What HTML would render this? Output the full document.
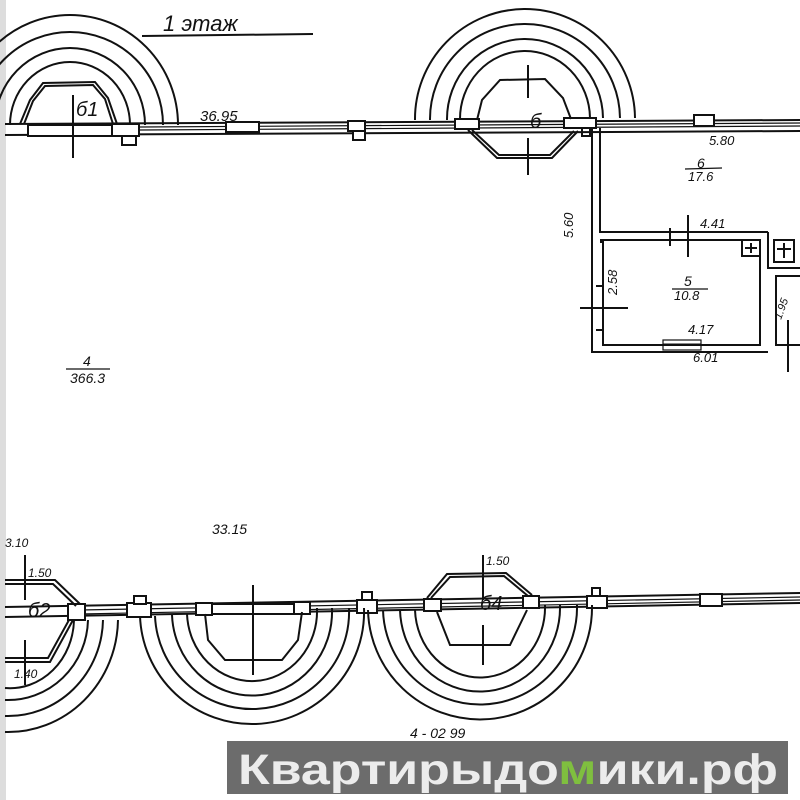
<!DOCTYPE html>
<html><head><meta charset="utf-8"><style>
html,body{margin:0;padding:0;background:#fff}
svg{display:block}
text{font-family:"Liberation Sans",sans-serif;font-style:italic}
</style></head><body>
<svg width="800" height="800" viewBox="0 0 800 800" xmlns="http://www.w3.org/2000/svg">
<rect width="800" height="800" fill="#fff"/>
<rect x="0" y="0" width="6" height="800" fill="#ddd"/>
<g fill="none" stroke="#111" stroke-width="2">
<line x1="142" y1="36" x2="313" y2="34"/>
<path d="M178 125 A108 110 0 0 0 -38 125"/>
<path d="M163 125 A93 93 0 0 0 -23 125"/>
<path d="M145 125 A75 77 0 0 0 -5 125"/>
<path d="M130 125 A60 63 0 0 0 10 125"/>
<path d="M20 124 L30 100 L43 83 L95 82 L108 98 L117 124"/>
<path d="M24 124 L33 101 L45 86 L93 85 L105 99 L113 124"/>
<line x1="5" y1="124" x2="800" y2="120"/>
<line x1="5" y1="135" x2="800" y2="131"/>
<line x1="140" y1="127" x2="800" y2="123" stroke-width="1.2"/>
<line x1="140" y1="130" x2="800" y2="126" stroke-width="1.2"/>
<rect x="28" y="125" width="84" height="11" fill="#fff"/>
<rect x="112" y="124" width="27" height="12" fill="#fff"/>
<rect x="122" y="136" width="14" height="9" fill="#fff"/>
<rect x="226" y="122" width="33" height="10" fill="#fff"/>
<rect x="348" y="121" width="17" height="10" fill="#fff"/>
<rect x="353" y="131" width="12" height="9" fill="#fff"/>
<rect x="455" y="119" width="24" height="10" fill="#fff"/>
<rect x="564" y="118" width="32" height="10" fill="#fff"/>
<rect x="694" y="115" width="20" height="11" fill="#fff"/>
<path d="M415 120 A110 110 0 0 1 635 118"/>
<path d="M430 120 A95 95 0 0 1 620 118"/>
<path d="M447 120 A78 80 0 0 1 603 118"/>
<path d="M460 120 A65 68 0 0 1 590 118"/>
<path d="M477 120 L482 100 L500 80 L545 79 L563 98 L571 119"/>
<path d="M468 130 L497 158 L552 158 L578 131"/>
<path d="M472 130 L499 155 L550 155 L574 131"/>
<line x1="528" y1="65" x2="528" y2="98"/>
<line x1="528" y1="138" x2="528" y2="175"/>
<rect x="582" y="128" width="8" height="8"/>
<path d="M592 128 L592 352 L768 352"/>
<path d="M600 128 L600 232 L768 232"/>
<path d="M600 242 L603 242 L603 345 L760 345 L760 240 L600 240"/>
<line x1="670" y1="228" x2="670" y2="246"/>
<line x1="688" y1="215" x2="688" y2="257"/>
<line x1="580" y1="308" x2="628" y2="308"/>
<line x1="596" y1="286" x2="603" y2="286"/>
<line x1="596" y1="330" x2="603" y2="330"/>
<rect x="663" y="340" width="38" height="10" stroke-width="1.2"/>
<line x1="663" y1="344" x2="701" y2="344" stroke-width="1"/>
<rect x="742" y="240" width="18" height="16"/>
<line x1="751" y1="243" x2="751" y2="253"/><line x1="745" y1="248" x2="757" y2="248"/>
<path d="M768 232 L768 268 L800 268"/>
<rect x="774" y="240" width="20" height="22"/>
<line x1="784" y1="243" x2="784" y2="258"/><line x1="777" y1="249" x2="791" y2="249"/>
<path d="M800 276 L776 276 L776 345 L800 345"/>
<line x1="788" y1="320" x2="788" y2="372"/>
<line x1="5" y1="607" x2="800" y2="593"/>
<line x1="5" y1="617" x2="800" y2="603"/>
<line x1="80" y1="610" x2="800" y2="597" stroke-width="1.2"/>
<line x1="80" y1="614" x2="800" y2="600" stroke-width="1.2"/>
<rect x="68" y="604" width="17" height="16" fill="#fff"/>
<rect x="127" y="603" width="24" height="14" fill="#fff"/>
<rect x="134" y="596" width="12" height="8" fill="#fff"/>
<rect x="196" y="603" width="16" height="12" fill="#fff"/>
<rect x="212" y="604" width="82" height="10" fill="#fff"/>
<rect x="294" y="602" width="16" height="12" fill="#fff"/>
<rect x="357" y="600" width="20" height="13" fill="#fff"/>
<rect x="362" y="592" width="10" height="8" fill="#fff"/>
<rect x="424" y="599" width="17" height="12" fill="#fff"/>
<rect x="523" y="596" width="16" height="12" fill="#fff"/>
<rect x="587" y="596" width="20" height="12" fill="#fff"/>
<rect x="592" y="588" width="8" height="8" fill="#fff"/>
<rect x="700" y="594" width="22" height="12" fill="#fff"/>
<path d="M5 580 L55 580 L80 604"/>
<path d="M5 584 L53 584 L76 606"/>
<path d="M73 620 L50 662 L5 662"/>
<path d="M69 620 L48 658 L5 658"/>
<line x1="25" y1="555" x2="25" y2="600"/>
<line x1="25" y1="640" x2="25" y2="685"/>
<path d="M74 620 A64 70 0 0 1 5 688"/>
<path d="M88 620 A80 82 0 0 1 5 700"/>
<path d="M103 620 A95 98 0 0 1 5 716"/>
<path d="M118 620 A110 114 0 0 1 5 732"/>
<path d="M140 616 A112 112 0 0 0 364 608"/>
<path d="M155 616 A97 97 0 0 0 349 608"/>
<path d="M172 615 A80 84 0 0 0 332 608"/>
<path d="M187 614 A65 70 0 0 0 317 608"/>
<path d="M205 614 L208 640 L225 660 L282 660 L298 640 L302 612"/>
<line x1="253" y1="585" x2="253" y2="675"/>
<path d="M368 610 A112 112 0 0 0 592 605"/>
<path d="M383 610 A97 97 0 0 0 577 605"/>
<path d="M400 610 A80 84 0 0 0 560 605"/>
<path d="M415 610 A65 70 0 0 0 545 605"/>
<path d="M427 598 L447 574 L506 573 L532 595"/>
<path d="M431 598 L450 577 L504 576 L528 596"/>
<path d="M437 612 L450 645 L510 645 L527 610"/>
<line x1="483" y1="555" x2="483" y2="600"/>
<line x1="483" y1="625" x2="483" y2="665"/>
<line x1="73" y1="95" x2="73" y2="158"/>
</g>
<g font-size="16" fill="#111">
<text x="163" y="31" font-size="22">1 этаж</text>
<text x="76" y="116" font-size="20">б1</text>
<text x="200" y="121" font-size="15">36.95</text>
<text x="530" y="128" font-size="20">б</text>
<text x="709" y="145" font-size="13">5.80</text>
<text x="697" y="168" font-size="14">6</text>
<text x="688" y="181" font-size="13">17.6</text>
<line x1="685" y1="169" x2="722" y2="168" stroke="#111" stroke-width="1.2"/>
<text x="700" y="228" font-size="13">4.41</text>
<text x="684" y="286" font-size="14">5</text>
<text x="674" y="300" font-size="13">10.8</text>
<line x1="672" y1="289" x2="708" y2="289" stroke="#111" stroke-width="1.2"/>
<text x="688" y="334" font-size="13">4.17</text>
<text x="693" y="362" font-size="13">6.01</text>
<text transform="translate(573,238) rotate(-90)" font-size="13">5.60</text>
<text transform="translate(617,295) rotate(-90)" font-size="13">2.58</text>
<text transform="translate(781,320) rotate(-70)" font-size="11">1.95</text>
<text x="83" y="366" font-size="14">4</text>
<text x="70" y="383" font-size="14">366.3</text>
<line x1="66" y1="369" x2="110" y2="369" stroke="#111" stroke-width="1.2"/>
<text x="212" y="534" font-size="14">33.15</text>
<text x="5" y="547" font-size="12">3.10</text>
<text x="28" y="577" font-size="12">1.50</text>
<text x="28" y="617" font-size="20">б2</text>
<text x="14" y="678" font-size="12">1.40</text>
<text x="486" y="565" font-size="12">1.50</text>
<text x="480" y="610" font-size="20">б4</text>
<text x="410" y="738" font-size="14">4 - 02 99</text>
<text x="410" y="752" font-size="14">22 01 99</text>
</g>
<rect x="227" y="741" width="561" height="53" fill="#6c6c6c"/>
<text x="238" y="784" textLength="540" lengthAdjust="spacingAndGlyphs" style="font-size:43px;font-weight:bold;font-style:normal;fill:#ececec">Квартирыдо<tspan style="fill:#7fbf3f">м</tspan>ики.рф</text>
</svg>
</body></html>
